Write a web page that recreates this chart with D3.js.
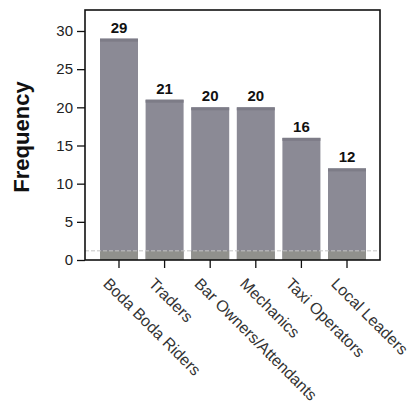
<!DOCTYPE html>
<html><head><meta charset="utf-8">
<script src="https://cdn.jsdelivr.net/npm/d3@7"></script>
<style>body{margin:0;background:#fff;} svg{display:block;}</style>
</head><body>
<script>
const categories = ["Boda Boda Riders","Traders","Bar Owners/Attendants","Mechanics","Taxi Operators","Local Leaders"];
const values = [29,21,20,20,16,12];
const yTicks = [0,5,10,15,20,25,30];

(function(){
const W=416,H=409;
const svg=d3.select("body").append("svg").attr("width",W).attr("height",H);
const mL=85,mR=380,mT=10,mB=260;
const y=d3.scaleLinear().domain([0,32.75]).range([mB,mT]);
const x=d3.scaleBand().domain(categories).range([100,366]).paddingInner(0.167).paddingOuter(0);

const font="Liberation Sans, Arial, sans-serif";

svg.append("g").selectAll("rect").data(values).join("rect")
  .attr("x",(d,i)=>x(categories[i]))
  .attr("y",d=>y(d))
  .attr("width",x.bandwidth())
  .attr("height",d=>y(0)-y(d))
  .attr("fill","#8b8a95");
svg.append("g").selectAll("rect").data(values).join("rect")
  .attr("x",(d,i)=>x(categories[i]))
  .attr("y",d=>y(d))
  .attr("width",x.bandwidth())
  .attr("height",3)
  .attr("fill","#7d7c87");
svg.append("g").selectAll("rect").data(values).join("rect")
  .attr("x",(d,i)=>x(categories[i]))
  .attr("y",y(1.2))
  .attr("width",x.bandwidth())
  .attr("height",y(0)-y(1.2))
  .attr("fill","#90908c");
svg.append("line").attr("x1",mL).attr("x2",mR).attr("y1",y(1.2)).attr("y2",y(1.2))
  .attr("stroke","#c4c4c4").attr("stroke-width",1).attr("stroke-dasharray","4,2");

svg.append("g").selectAll("text").data(values).join("text")
  .attr("x",(d,i)=>x(categories[i])+x.bandwidth()/2)
  .attr("y",d=>y(d)-6)
  .attr("text-anchor","middle")
  .attr("font-family",font).attr("font-weight","bold").attr("font-size",15)
  .attr("fill","#111").text(d=>d);

svg.append("rect").attr("x",mL).attr("y",mT).attr("width",mR-mL).attr("height",mB-mT)
  .attr("fill","none").attr("stroke","#111").attr("stroke-width",1.6);

const ya=svg.append("g").attr("transform",`translate(${mL},0)`)
  .call(d3.axisLeft(y).tickValues(yTicks).tickSize(8).tickPadding(4));
ya.select(".domain").remove();
ya.selectAll("line").attr("stroke","#111").attr("stroke-width",1.3);
ya.selectAll("text").attr("font-family",font).attr("font-size",15).attr("fill","#222");

const xa=svg.append("g").attr("transform",`translate(0,${mB})`)
  .call(d3.axisBottom(x).tickSize(8).tickPadding(3));
xa.select(".domain").remove();
xa.selectAll("line").attr("stroke","#111").attr("stroke-width",1.3);
xa.selectAll("text").attr("font-family",font).attr("font-size",16).attr("fill","#333")
  .attr("text-anchor","start").attr("dy","0.35em")
  .attr("transform","translate(-5,13) rotate(45)");

svg.append("text").attr("transform","translate(29,137) rotate(-90)")
  .attr("text-anchor","middle").attr("font-family",font).attr("font-weight","bold")
  .attr("font-size",22).attr("fill","#111").text("Frequency");
})();
</script>
</body></html>
